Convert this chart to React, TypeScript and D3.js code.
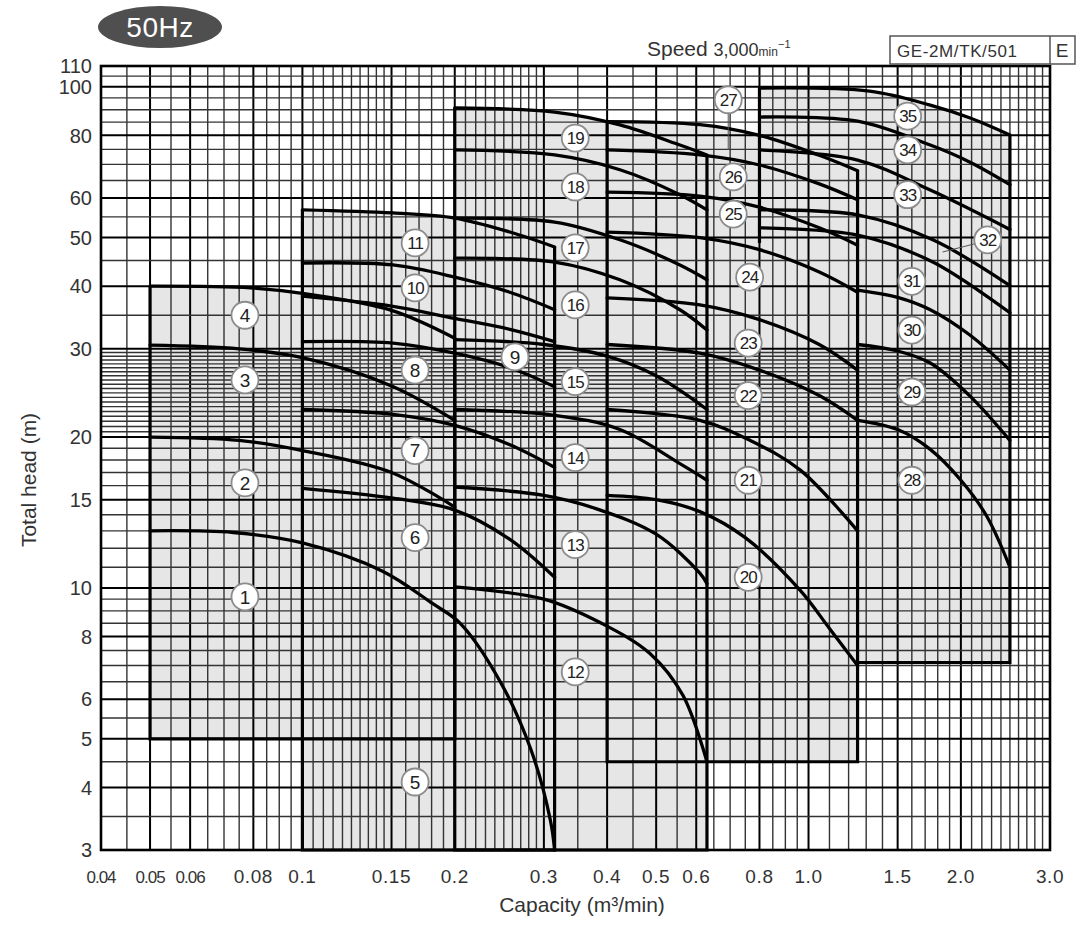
import React from "react";
import * as d3 from "d3";

// axis ticks
const xTicks = [0.04, 0.05, 0.06, 0.08, 0.1, 0.15, 0.2, 0.3, 0.4, 0.5, 0.6, 0.8, 1.0, 1.5, 2.0, 3.0];
const xTickLabels = ["0.04", "0.05", "0.06", "0.08", "0.1", "0.15", "0.2", "0.3", "0.4", "0.5", "0.6", "0.8", "1.0", "1.5", "2.0", "3.0"];
const yTicks = [3, 4, 5, 6, 8, 10, 15, 20, 30, 40, 50, 60, 80, 100, 110];

// H-Q curves, [capacity m3/min, total head m]
// group 1 (0.05 - 0.2)
const c1 = [[0.05, 13.0], [0.073, 12.9], [0.1, 12.3], [0.144, 10.8], [0.181, 9.3], [0.205, 8.5], [0.246, 6.5], [0.283, 4.75], [0.309, 3.44], [0.315, 3.0]];
const c2 = [[0.05, 20.0], [0.075, 19.7], [0.1, 18.8], [0.15, 17.0], [0.2, 14.5]];
const c3 = [[0.05, 30.5], [0.075, 30.0], [0.1, 28.8], [0.15, 25.3], [0.2, 21.6]];
const c4 = [[0.05, 40.0], [0.079, 39.7], [0.1, 38.7], [0.15, 35.8], [0.2, 31.5]];
// group 2 (0.1 - 0.315)
const c6 = [[0.1, 15.8], [0.151, 15.1], [0.2, 14.3], [0.257, 12.5], [0.315, 10.5]];
const c7 = [[0.1, 22.7], [0.151, 22.2], [0.2, 21.1], [0.257, 19.3], [0.315, 17.4]];
const c8 = [[0.1, 31.0], [0.151, 30.8], [0.2, 29.4], [0.257, 27.5], [0.315, 25.2]];
const c9 = [[0.1, 38.2], [0.15, 36.5], [0.2, 34.5], [0.257, 32.8], [0.315, 31.0]];
const c10 = [[0.1, 44.5], [0.151, 44.1], [0.2, 41.7], [0.257, 38.9], [0.315, 35.9]];
const c11 = [[0.1, 56.8], [0.151, 56.0], [0.2, 54.7], [0.257, 51.3], [0.315, 47.9]];
// group 3 (0.2 - 0.63)
const c12 = [[0.2, 10.05], [0.3, 9.5], [0.39, 8.5], [0.486, 7.4], [0.565, 6.1], [0.63, 4.5]];
const c13 = [[0.2, 15.9], [0.3, 15.3], [0.38, 14.4], [0.5, 12.8], [0.61, 10.7], [0.63, 10.2]];
const c14 = [[0.2, 22.7], [0.315, 22.1], [0.424, 20.7], [0.557, 17.7], [0.63, 16.4]];
const c15 = [[0.2, 31.3], [0.3, 30.6], [0.4, 29.0], [0.5, 26.5], [0.63, 22.7]];
const c16 = [[0.2, 45.5], [0.315, 44.7], [0.424, 41.2], [0.557, 35.9], [0.63, 32.7]];
const c17 = [[0.2, 54.7], [0.315, 53.7], [0.424, 49.5], [0.557, 44.1], [0.63, 41.2]];
const c18 = [[0.2, 74.8], [0.315, 73.1], [0.424, 68.3], [0.557, 60.9], [0.63, 56.8]];
const c19 = [[0.2, 90.7], [0.315, 89.0], [0.424, 83.9], [0.557, 76.5], [0.63, 73.1]];
// group 4 (0.4 - 1.25)
const c20 = [[0.4, 15.3], [0.5, 15.0], [0.61, 14.2], [0.75, 12.6], [0.962, 9.9], [1.1, 8.3], [1.25, 7.0]];
const c21 = [[0.4, 22.7], [0.61, 21.6], [0.766, 19.7], [0.962, 17.2], [1.25, 13.0]];
const c22 = [[0.4, 30.6], [0.61, 29.4], [0.8, 27.2], [1.05, 24.2], [1.25, 21.6]];
const c23 = [[0.4, 37.9], [0.61, 36.7], [0.8, 34.3], [1.05, 30.6], [1.25, 27.2]];
const c24 = [[0.4, 51.3], [0.61, 50.0], [0.8, 47.3], [1.05, 42.7], [1.25, 38.9]];
const c25 = [[0.4, 61.6], [0.61, 60.5], [0.8, 57.5], [1.05, 52.3], [1.25, 48.3]];
const c26 = [[0.4, 74.8], [0.61, 73.1], [0.8, 69.8], [1.05, 64.0], [1.25, 59.5]];
const c27 = [[0.4, 85.2], [0.61, 84.0], [0.8, 80.0], [1.05, 73.0], [1.25, 68.0]];
// groups 5 and 6 (0.8 / 1.25 - 2.5)
const c28 = [[1.25, 21.6], [1.5, 20.7], [1.74, 18.9], [2.0, 16.4], [2.25, 13.9], [2.5, 11.0]];
const c29 = [[1.25, 30.6], [1.5, 29.7], [1.74, 28.1], [2.08, 24.2], [2.5, 19.7]];
const c30 = [[1.25, 39.3], [1.5, 38.0], [1.74, 35.9], [2.08, 32.0], [2.5, 27.2]];
const c31 = [[0.8, 52.3], [1.25, 50.6], [1.76, 44.7], [2.5, 35.4]];
const c32 = [[0.8, 56.8], [1.25, 55.5], [1.76, 49.5], [2.5, 40.1]];
const c33 = [[0.8, 74.8], [1.25, 71.4], [1.74, 62.2], [2.5, 51.9]];
const c34 = [[0.8, 87.0], [1.25, 85.4], [1.74, 76.5], [2.08, 70.8], [2.5, 63.8]];
const c35 = [[0.8, 99.4], [1.32, 98.0], [1.74, 91.9], [2.08, 86.7], [2.5, 80.1]];

const curves = [c1, c2, c3, c4, c6, c7, c8, c9, c10, c11, c12, c13, c14, c15, c16, c17, c18, c19,
  c20, c21, c22, c23, c24, c25, c26, c27, c28, c29, c30, c31, c32, c33, c34, c35];

// range frames
const g1Frame = [[0.05, 40], [0.05, 5], [0.2, 5], [0.2, 31.5]];
const g2Frame = [[0.1, 56.8], [0.1, 3], [0.315, 3], [0.315, 47.9]];
const g3Frame = [[0.2, 90.7], [0.2, 3], [0.63, 3], [0.63, 73.1]];
const g4Frame = [[0.4, 85.2], [0.4, 4.5], [1.25, 4.5], [1.25, 68]];
const g5Frame = [[0.8, 99.4], [0.8, 48.8]];
const g6Frame = [[1.25, 7.1], [2.5, 7.1], [2.5, 80.1]];
const frames = [g1Frame, g2Frame, g3Frame, g4Frame, g5Frame, g6Frame];

// shaded areas: top curve + closing corners
const shades = [
  { top: c4, rest: [[0.2, 5], [0.05, 5]] },
  { top: c11, rest: [[0.315, 3], [0.1, 3]] },
  { top: c19, rest: [[0.63, 3], [0.2, 3]] },
  { top: c27, rest: [[1.25, 4.5], [0.4, 4.5]] },
  { top: c35, rest: [[2.5, 7.1], [1.25, 7.1], [1.25, 48.8], [0.8, 48.8]] },
];

// model numbers [no, capacity, head]
const pumpLabels = [
  [1, 0.077, 9.6], [2, 0.077, 16.2], [3, 0.077, 26.0], [4, 0.077, 35.0],
  [5, 0.167, 4.1], [6, 0.167, 12.6], [7, 0.167, 18.8], [8, 0.167, 27.2], [9, 0.263, 28.9],
  [10, 0.167, 39.7], [11, 0.167, 48.8],
  [12, 0.346, 6.8], [13, 0.346, 12.2], [14, 0.346, 18.2], [15, 0.346, 25.8], [16, 0.346, 36.7],
  [17, 0.346, 47.7], [18, 0.346, 63.1], [19, 0.346, 79.0],
  [20, 0.76, 10.5], [21, 0.76, 16.4], [22, 0.76, 24.2], [23, 0.76, 30.8], [24, 0.765, 41.7],
  [25, 0.71, 55.7], [26, 0.71, 66.1], [27, 0.694, 94.2],
  [28, 1.6, 16.4], [29, 1.6, 24.6], [30, 1.6, 32.7], [31, 1.6, 40.9], [32, 2.26, 49.5],
  [33, 1.57, 60.9], [34, 1.57, 74.8], [35, 1.57, 87.4],
];
const leaders = [
  [[0.694, 88.6], [0.694, 74.8]],
  [[2.13, 48.6], [1.84, 46.8]],
];

const near = (v: number, list: number[]) => list.some((t) => Math.abs(t - v) < 1e-6 * Math.max(1, t));

const xGrid = [
  ...d3.range(0.045, 0.1499, 0.005),
  ...d3.range(0.15, 0.1999, 0.01),
  ...d3.range(0.2, 0.2999, 0.01),
  ...d3.range(0.3, 0.9999, 0.05),
  ...d3.range(1.0, 2.9999, 0.1),
].map((v) => +v.toFixed(3));
const yGrid = [
  ...d3.range(3.5, 9.9999, 0.5),
  ...d3.range(10, 19.9999, 1),
  ...d3.range(20, 29.9999, 0.5),
  ...d3.range(30, 109.999, 5),
].map((v) => +v.toFixed(2));

const FONT = "'Liberation Sans', Arial, Helvetica, sans-serif";

export default function App() {
  const x = d3.scaleLog().domain([0.04, 3]).range([101, 1050]);
  const y = d3.scaleLog().domain([3, 110]).range([850, 66]);
  const [x0, x1] = x.range();
  const [y0, y1] = y.range();

  const line = d3
    .line<number[]>()
    .x((d) => x(d[0]))
    .y((d) => y(d[1]))
    .curve(d3.curveCatmullRom.alpha(0.5));
  const poly = d3
    .line<number[]>()
    .x((d) => x(d[0]))
    .y((d) => y(d[1]));

  const shadePath = (top: number[][], rest: number[][]) =>
    (line(top) || "") + rest.map((p) => `L${x(p[0])},${y(p[1])}`).join("") + "Z";

  return (
    <svg
      width={1081}
      height={925}
      style={{ position: "absolute", left: 0, top: 0, background: "#fff" }}
      fontFamily={FONT}
    >
      <rect x={0} y={0} width={1081} height={925} fill="#fff" />

      {/* shaded ranges */}
      {shades.map((s, i) => (
        <path key={"s" + i} d={shadePath(s.top, s.rest)} fill="#e6e6e6" stroke="none" />
      ))}

      {/* grid */}
      {xGrid.map((v, i) => {
        const major = near(v, xTicks);
        return (
          <line key={"gx" + i} x1={x(v)} x2={x(v)} y1={y0} y2={y1}
            stroke={major ? "#000" : "#333"} strokeWidth={major ? 2 : 1.4} />
        );
      })}
      {yGrid.map((v, i) => {
        const major = near(v, yTicks);
        return (
          <line key={"gy" + i} x1={x0} x2={x1} y1={y(v)} y2={y(v)}
            stroke={major ? "#000" : "#333"} strokeWidth={major ? 2 : 1.4} />
        );
      })}

      {/* frames */}
      {frames.map((f, i) => (
        <path key={"f" + i} d={poly(f) || ""} fill="none" stroke="#000" strokeWidth={3.2} />
      ))}

      {/* curves */}
      {curves.map((c, i) => (
        <path key={"c" + i} d={line(c) || ""} fill="none" stroke="#000" strokeWidth={3.3} strokeLinecap="round" />
      ))}

      {/* plot border */}
      <rect x={x0} y={y1} width={x1 - x0} height={y0 - y1} fill="none" stroke="#000" strokeWidth={2.6} />

      {/* leaders */}
      {leaders.map((l, i) => (
        <path key={"l" + i} d={poly(l) || ""} fill="none" stroke="#555" strokeWidth={1} />
      ))}

      {/* model labels */}
      {pumpLabels.map(([n, q, h]) => (
        <g key={"p" + n} transform={`translate(${x(q)},${y(h)})`}>
          <circle r={13.5} fill="#fff" stroke="#8c8c8c" strokeWidth={1.8} />
          <text
            textAnchor="middle"
            dy="0.36em"
            fontSize={n >= 10 ? 17 : 19}
            letterSpacing={n >= 10 ? -1 : 0}
            fill="#222"
          >
            {n}
          </text>
        </g>
      ))}

      {/* y tick labels */}
      {yTicks.map((v) => (
        <text key={"yt" + v} x={92} y={y(v)} dy="0.36em" textAnchor="end" fontSize={20} fill="#333">
          {v}
        </text>
      ))}

      {/* x tick labels */}
      {xTicks.map((v, i) => {
        const small = v < 0.07;
        return (
          <text key={"xt" + v} x={x(v)} y={883} textAnchor="middle"
            fontSize={small ? 17 : 19} letterSpacing={small ? -1 : 0.6} fill="#333">
            {xTickLabels[i]}
          </text>
        );
      })}

      {/* axis titles */}
      <text x={582} y={912} textAnchor="middle" fontSize={21} fill="#333">
        Capacity (m³/min)
      </text>
      <text transform="translate(36,480) rotate(-90)" textAnchor="middle" fontSize={21} fill="#333">
        Total head (m)
      </text>

      {/* 50Hz badge */}
      <ellipse cx={160} cy={27} rx={62} ry={21} fill="#4f4f4f" />
      <text x={160} y={37} textAnchor="middle" fontSize={28} fill="#fff" letterSpacing={0.5}>
        50Hz
      </text>

      {/* speed */}
      <text x={647} y={56} fill="#333">
        <tspan fontSize={21}>Speed </tspan>
        <tspan fontSize={18}>3,000</tspan>
        <tspan fontSize={12}>min</tspan>
        <tspan fontSize={11} dy={-8}>−1</tspan>
      </text>

      {/* code box */}
      <rect x={890} y={36} width={185} height={28} fill="#fff" stroke="#555" strokeWidth={1.5} />
      <line x1={1050} x2={1050} y1={36} y2={64} stroke="#555" strokeWidth={1.5} />
      <text x={897} y={57} fontSize={17} letterSpacing={0.6} fill="#333">
        GE-2M/TK/501
      </text>
      <text x={1062} y={57} textAnchor="middle" fontSize={19} fill="#333">
        E
      </text>
    </svg>
  );
}
